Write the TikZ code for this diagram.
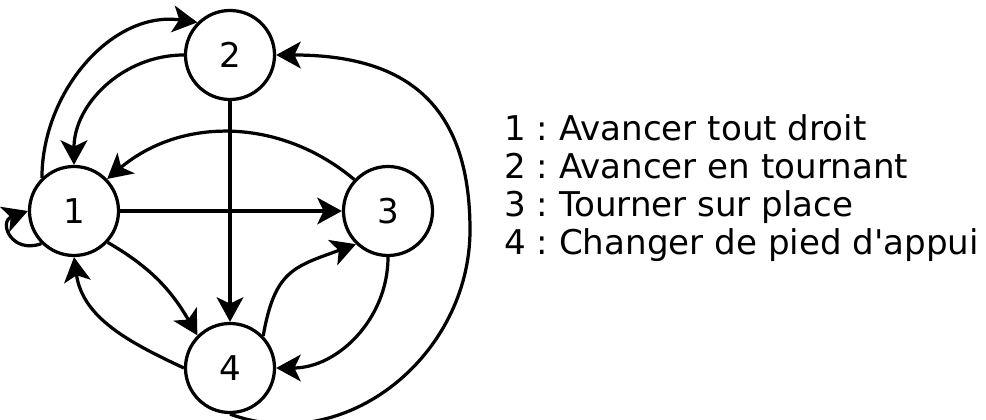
\documentclass[tikz,border=0pt]{standalone}
\usepackage{fontspec}
\setmainfont{DejaVu Sans}
\usetikzlibrary{arrows.meta}

\begin{document}
\frenchspacing
\begin{tikzpicture}[x=0.025cm, y=0.025cm, font=\fontsize{24.25pt}{27pt}\selectfont, state/.style={draw,circle,fill=white,line width=2.3pt,minimum size=2.225cm,inner sep=0pt}, trans/.style={-{Stealth[length=17.5pt,width=19pt,inset=4.5pt]},line width=2.3pt}, legend/.style={anchor=base west,inner sep=0pt}]
\useasboundingbox (0,0) rectangle (986,420);
\node[state] (n1) at (74,209) {1};
\node[state] (n2) at (230,365) {2};
\node[state] (n3) at (388,209) {3};
\node[state] (n4) at (230,52) {4};
\coordinate (far) at (470,190);
\draw[trans] (n1.134) to[out=90,in=172] (n2.135);
\draw[trans] (n2.west) to[out=180,in=90] (n1.north);
\draw[trans] (n1.-135) to[out=-160,in=200,looseness=2.3] (n1.west);
\draw[trans] (n3.137) to[out=140,in=40] (n1.44);
\draw[trans] (n1) -- (n3);
\draw[trans] (n2) -- (n4);
\draw[trans] (n1.-43) to[out=-30,in=120] (n4.135);
\draw[trans] (n4.west) to[out=155,in=-82] (n1.south);
\draw[trans] (n4.44) to[out=80,in=200,looseness=1.3] (n3.-134);
\draw[trans] (n3.south) to[out=-90,in=0] (n4.east);
\draw[trans] (n4.south) to[out=-20,in=-90,looseness=1.05] (far) to[out=90,in=0,looseness=1.25] (n2.east);
\node[legend] (l1) at (504,279) {1 : Avancer tout droit};
\node[legend] (l2) at (504,241) {2 : Avancer en tournant};
\node[legend] (l3) at (504,203) {3 : Tourner sur place};
\node[legend] (l4) at (504,165) {4 : Changer de pied d\textquotesingle appui};
\end{tikzpicture}
\end{document}
